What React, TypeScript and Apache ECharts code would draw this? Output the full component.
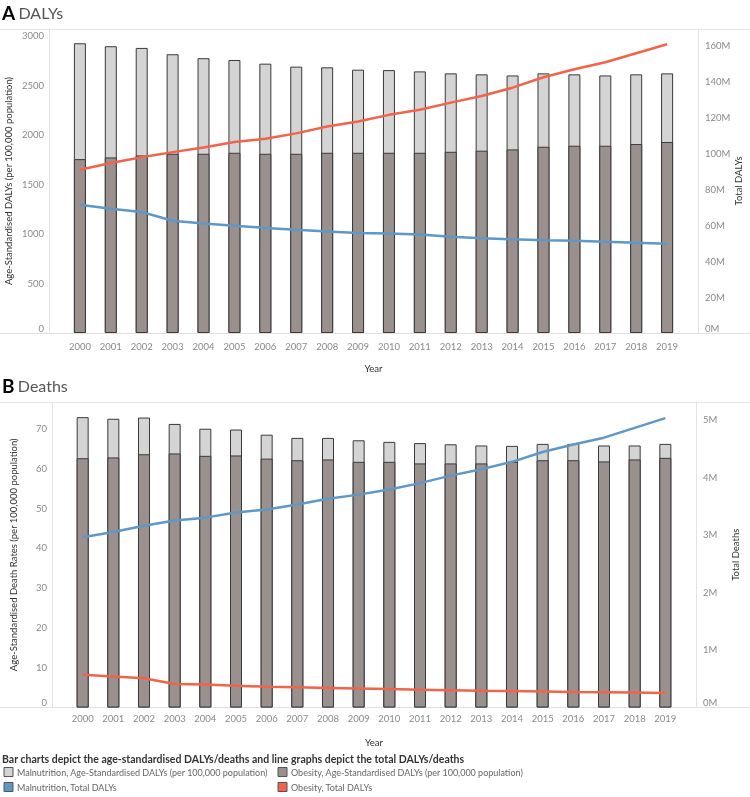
import React, { useEffect, useRef } from "react";
import * as echarts from "echarts";

const years = [2000, 2001, 2002, 2003, 2004, 2005, 2006, 2007, 2008, 2009, 2010, 2011, 2012, 2013, 2014, 2015, 2016, 2017, 2018, 2019];

// Panel A: DALYs
const dalyObesityRate = [1756, 1773, 1793, 1810, 1810, 1820, 1810, 1810, 1820, 1820, 1820, 1820, 1830, 1841, 1854, 1881, 1891, 1891, 1908, 1929];
const dalyMalnutritionRate = [1170, 1123, 1086, 1005, 965, 937, 910, 880, 863, 839, 835, 822, 792, 771, 747, 741, 721, 710, 704, 693];
const dalyObesityTotalM = [90.7, 94.5, 97.6, 100.5, 103.1, 106.1, 107.9, 110.9, 114.7, 117.5, 121.2, 124.0, 128.0, 131.7, 136.3, 142.1, 146.5, 150.4, 155.4, 160.4];
const dalyMalnutritionTotalM = [71.2, 69.0, 67.2, 62.4, 60.8, 59.6, 58.4, 57.3, 56.4, 55.5, 55.3, 54.7, 53.5, 52.7, 52.1, 51.6, 51.2, 50.7, 50.1, 49.6];

// Panel B: Deaths
const deathObesityRate = [62.5, 62.7, 63.5, 63.7, 63.1, 63.2, 62.4, 62.0, 62.2, 61.6, 61.6, 61.2, 61.2, 61.2, 61.6, 62.0, 62.0, 61.7, 62.2, 62.6];
const deathMalnutritionRate = [10.3, 9.7, 9.2, 7.4, 6.8, 6.5, 6.0, 5.6, 5.4, 5.4, 5.0, 5.1, 4.8, 4.5, 4.0, 4.1, 4.1, 4.0, 3.5, 3.5];
const deathBlueTotalM = [2.96, 3.05, 3.16, 3.25, 3.30, 3.39, 3.44, 3.53, 3.63, 3.70, 3.79, 3.90, 4.03, 4.14, 4.27, 4.44, 4.57, 4.69, 4.86, 5.03];
const deathRedTotalM = [0.57, 0.54, 0.51, 0.41, 0.40, 0.38, 0.36, 0.35, 0.34, 0.33, 0.32, 0.31, 0.30, 0.29, 0.285, 0.28, 0.27, 0.265, 0.26, 0.25];

const legendNames = [
  "Malnutrition, Age-Standardised DALYs (per 100,000 population)",
  "Obesity, Age-Standardised DALYs (per 100,000 population)",
  "Malnutrition, Total DALYs",
  "Obesity, Total DALYs",
];
const legendTitle = "Bar charts depict the age-standardised DALYs/deaths and line graphs depict the total DALYs/deaths";

const C_LIGHT = "#d4d4d4";
const C_DARK = "#9a918f";
const C_BLUE = "#5f98c6";
const C_RED = "#f26349";
const FONT = "Lato";

const pair = (arr: number[]) => years.map((y, i) => [y, arr[i]]);
// top of the stacked bar (obesity + malnutrition)
const stackTop = (bottom: number[], top: number[]) => years.map((y, i) => [y, Math.round((bottom[i] + top[i]) * 100) / 100]);

export default function App() {
  const ref = useRef<HTMLDivElement>(null);
  useEffect(() => {
    document.body.style.margin = "0";
    const chart = echarts.init(ref.current!, undefined, { renderer: "svg" });

    const xAxisBase = (gridIndex: number, labelMargin: number) => ({
      type: "value",
      gridIndex,
      min: 1999,
      max: 2020,
      interval: 1,
      axisLine: { show: true, lineStyle: { color: "#e0e0e0" } },
      axisTick: { show: false },
      splitLine: { show: false },
      axisLabel: {
        color: "#8a8a8a",
        fontSize: 9.5,
        fontFamily: FONT,
        margin: labelMargin,
        formatter: (v: number) => (years.indexOf(v) >= 0 ? String(v) : ""),
      },
      name: "Year",
      nameLocation: "middle",
      nameGap: 30,
      nameTextStyle: { color: "#333", fontSize: 9.5, fontFamily: FONT },
    });

    const yAxisBase = (gridIndex: number, max: number, interval: number, name: string, nameGap: number, suffix: string, position: string) => ({
      type: "value",
      gridIndex,
      position,
      min: 0,
      max,
      interval,
      axisLine: { show: true, lineStyle: { color: "#e3e3e3" } },
      axisTick: { show: false },
      splitLine: { show: false },
      axisLabel: {
        color: "#8a8a8a",
        fontSize: 9.5,
        fontFamily: FONT,
        margin: position === "left" ? 5 : 7,
        showMaxLabel: false,
        verticalAlignMinLabel: "bottom",
        formatter: (v: number) => `${v}${suffix}`,
      },
      name,
      nameLocation: "middle",
      nameGap,
      nameRotate: 90,
      nameMoveOverlap: false,
      nameTextStyle: { color: "#333", fontSize: 9.5, fontFamily: FONT },
    });

    const barStyle = (color: string) => ({ color, borderColor: "#3a3a3a", borderWidth: 1 });
    const barSeries = (name: string, data: any[], color: string, xi: number, yi: number) => ({
      name,
      type: "bar",
      xAxisIndex: xi,
      yAxisIndex: yi,
      barWidth: 12,
      barGap: "-100%",
      data,
      itemStyle: barStyle(color),
    });
    const lineSeries = (name: string, data: number[], color: string, xi: number, yi: number) => ({
      name,
      type: "line",
      xAxisIndex: xi,
      yAxisIndex: yi,
      data: pair(data),
      showSymbol: false,
      symbol: "none",
      lineStyle: { color, width: 2.5 },
      itemStyle: { color },
      z: 5,
    });

    const legendItems: any[] = [];
    const legendColors = [C_LIGHT, C_DARK, C_BLUE, C_RED];
    const legendPos = [
      [4, 772],
      [278, 772],
      [4, 787],
      [278, 787],
    ];
    legendNames.forEach((n, i) => {
      const [lx, ly] = legendPos[i];
      legendItems.push({
        type: "rect",
        shape: { x: lx, y: ly - 4.5, width: 9, height: 9 },
        style: { fill: legendColors[i], stroke: "#555", lineWidth: 1 },
      });
      legendItems.push({
        type: "text",
        x: lx + 13,
        y: ly,
        style: { text: n, fontSize: 9, fontFamily: FONT, fill: "#666", verticalAlign: "middle" },
      });
    });

    const option: any = {
      animation: false,
      textStyle: { fontFamily: FONT },
      grid: [
        { left: 49, right: 52, top: 29, height: 304, outerBoundsMode: "none", containLabel: false },
        { left: 52, right: 54, top: 402, height: 305.5, outerBoundsMode: "none", containLabel: false },
      ],
      xAxis: [xAxisBase(0, 8), xAxisBase(1, 6)],
      yAxis: [
        yAxisBase(0, 3070, 500, "Age-Standardised DALYs (per 100,000 population)", 36, "", "left"),
        yAxisBase(0, 168.9, 20, "Total DALYs", 35, "M", "right"),
        yAxisBase(1, 76.6, 10, "Age-Standardised Death Rates (per 100,000 population)", 34, "", "left"),
        yAxisBase(1, 5.31, 1, "Total Deaths", 34, "M", "right"),
      ],
      series: [
        barSeries(legendNames[0], stackTop(dalyObesityRate, dalyMalnutritionRate), C_LIGHT, 0, 0),
        barSeries(legendNames[1], pair(dalyObesityRate), C_DARK, 0, 0),
        lineSeries(legendNames[3], dalyObesityTotalM, C_RED, 0, 1),
        lineSeries(legendNames[2], dalyMalnutritionTotalM, C_BLUE, 0, 1),
        barSeries(legendNames[0], stackTop(deathObesityRate, deathMalnutritionRate), C_LIGHT, 1, 2),
        barSeries(legendNames[1], pair(deathObesityRate), C_DARK, 1, 2),
        lineSeries(legendNames[2], deathBlueTotalM, C_BLUE, 1, 3),
        lineSeries(legendNames[3], deathRedTotalM, C_RED, 1, 3),
      ],
      graphic: [
        { type: "line", shape: { x1: 0, y1: 29.5, x2: 750, y2: 29.5 }, style: { stroke: "#e6e6e6", lineWidth: 1 } },
        { type: "line", shape: { x1: 0, y1: 333.5, x2: 750, y2: 333.5 }, style: { stroke: "#e0e0e0", lineWidth: 1 } },
        { type: "line", shape: { x1: 0, y1: 402.5, x2: 750, y2: 402.5 }, style: { stroke: "#e6e6e6", lineWidth: 1 } },
        { type: "line", shape: { x1: 0, y1: 707.5, x2: 750, y2: 707.5 }, style: { stroke: "#e0e0e0", lineWidth: 1 } },
        {
          type: "text",
          x: 2,
          y: 12,
          style: {
            text: "{a|A} {b|DALYs}",
            verticalAlign: "middle",
            rich: {
              a: { fontSize: 19, fontWeight: "bold", fill: "#000", fontFamily: FONT },
              b: { fontSize: 16, fill: "#555", fontFamily: FONT },
            },
          },
        },
        {
          type: "text",
          x: 2,
          y: 385,
          style: {
            text: "{a|B} {b|Deaths}",
            verticalAlign: "middle",
            rich: {
              a: { fontSize: 19, fontWeight: "bold", fill: "#000", fontFamily: FONT },
              b: { fontSize: 16, fill: "#555", fontFamily: FONT },
            },
          },
        },
        {
          type: "text",
          x: 2,
          y: 759,
          style: { text: legendTitle, fontSize: 10.5, fontWeight: "bold", fontFamily: FONT, fill: "#333", verticalAlign: "middle" },
        },
        ...legendItems,
      ],
    };
    chart.setOption(option);
    return () => chart.dispose();
  }, []);
  return <div ref={ref} style={{ position: "fixed", left: 0, top: 0, width: 750, height: 797 }} />;
}
